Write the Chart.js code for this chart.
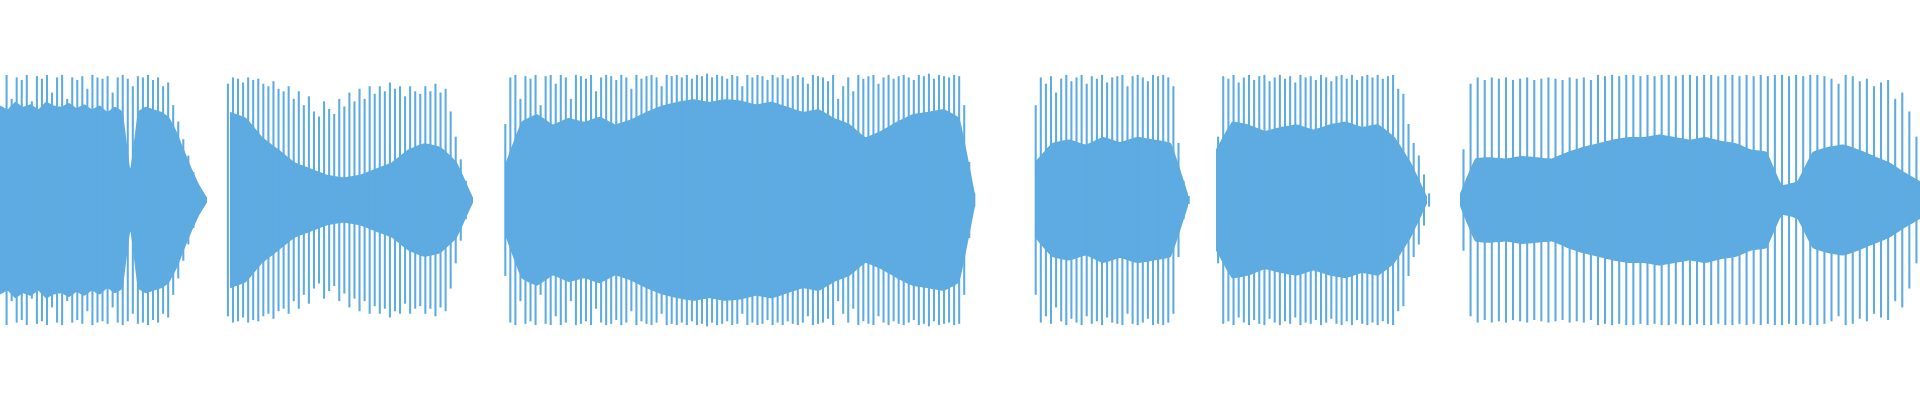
<!DOCTYPE html>
<html><head><meta charset="utf-8">
<script src="https://cdn.jsdelivr.net/npm/chart.js@4"></script>
<style>html,body{margin:0;padding:0;background:#fff}</style>
</head><body>
<canvas id="c" width="1920" height="400"></canvas>
<script>
// segment extents (sample position, px of timeline)
const segStarts = [0, 230, 506, 1035, 1216, 1460];
const segEnds   = [207, 473, 975, 1188, 1427, 1920];
// outer peak amplitudes (thin lines), evenly spaced per segment
const outer1 = [0.98,0.72,0.99,0.8,0.97,0.95,0.99,0.78,0.98,0.96,0.99,0.85,0.97,0.99,0.8,0.97,0.95,0.98,0.88,0.99,0.97,0.96,0.98,0.85,0.97,0.99,0.96,0.9,0.98,0.97,0.99,0.95,0.97,0.9,0.93,0.75,0.62,0.48,0.35,0.22,0.1,0.04];
const outer2 = [0.92,0.97,0.96,0.93,0.97,0.95,0.96,0.92,0.9,0.94,0.88,0.86,0.9,0.8,0.86,0.75,0.82,0.7,0.66,0.78,0.72,0.68,0.8,0.74,0.85,0.78,0.88,0.8,0.9,0.84,0.9,0.86,0.93,0.88,0.9,0.82,0.9,0.86,0.84,0.9,0.86,0.92,0.85,0.88,0.7,0.5,0.32,0.15,0.04];
const outer3 = [0.6,0.97,0.99,0.8,0.98,0.96,0.99,0.75,0.98,0.99,0.92,0.99,0.97,0.8,0.99,0.98,0.96,0.99,0.86,0.97,0.99,0.98,0.95,0.99,0.97,0.88,0.99,0.96,0.98,0.99,0.97,0.9,0.99,0.98,0.99,0.97,0.99,0.96,0.99,0.98,1.0,0.97,0.99,0.98,0.96,0.99,0.98,0.9,0.99,0.97,0.99,0.98,0.95,0.99,0.97,0.99,0.96,0.98,0.99,0.97,0.92,0.99,0.98,0.97,0.94,0.99,0.8,0.9,0.97,0.86,0.99,0.96,0.98,0.99,0.92,0.97,0.99,0.96,0.98,0.99,0.97,0.95,0.99,0.98,1.0,0.96,0.99,0.98,0.97,0.99,0.98,0.75,0.3,0.05];
const outer4 = [0.75,0.97,0.92,0.98,0.85,0.96,0.99,0.94,0.97,0.99,0.92,0.98,0.96,0.99,0.93,0.97,0.98,0.99,0.9,0.98,0.99,0.97,0.94,0.99,0.98,0.99,0.97,0.9,0.45,0.15,0.03];
const outer5 = [0.5,0.98,0.96,0.99,0.93,0.97,0.99,0.95,0.98,0.99,0.94,0.97,0.99,0.96,0.98,0.93,0.99,0.97,0.98,0.95,0.99,0.97,0.94,0.98,0.99,0.96,0.99,0.95,0.98,0.99,0.97,0.99,0.96,0.98,0.99,0.88,0.84,0.6,0.45,0.35,0.2,0.05];
const outer6 = [0.4,0.92,0.97,0.95,0.97,0.96,0.97,0.95,0.96,0.97,0.95,0.96,0.97,0.96,0.95,0.97,0.96,0.97,0.95,0.99,0.98,0.99,0.98,0.99,0.99,0.98,0.99,0.98,0.99,0.99,0.98,0.99,0.99,0.98,0.99,0.99,0.98,0.99,0.99,0.98,0.99,0.98,0.99,0.98,0.99,0.99,0.98,0.99,0.98,0.99,0.99,0.98,0.96,0.92,0.99,0.98,0.94,0.96,0.9,0.93,0.95,0.8,0.85,0.7,0.5,0.3];
// inner dense-core amplitudes, evenly spaced per segment
const inner1 = [0.75,0.72,0.78,0.74,0.76,0.72,0.78,0.75,0.74,0.77,0.73,0.76,0.72,0.75,0.7,0.74,0.7,0.25,0.7,0.74,0.72,0.7,0.66,0.55,0.4,0.25,0.12,0.02];
const inner2 = [0.7,0.65,0.5,0.4,0.3,0.25,0.2,0.18,0.2,0.25,0.3,0.4,0.45,0.42,0.3,0.02];
const inner3 = [0.3,0.62,0.68,0.6,0.65,0.62,0.66,0.6,0.64,0.7,0.75,0.78,0.8,0.78,0.8,0.79,0.76,0.78,0.74,0.7,0.72,0.65,0.6,0.5,0.55,0.62,0.68,0.7,0.72,0.65,0.05];
const inner4 = [0.3,0.45,0.48,0.44,0.5,0.46,0.5,0.48,0.45,0.05];
const inner5 = [0.4,0.62,0.6,0.55,0.58,0.6,0.56,0.6,0.62,0.58,0.6,0.5,0.3,0.03];
const inner6 = [0.05,0.33,0.34,0.33,0.35,0.34,0.33,0.38,0.42,0.45,0.48,0.5,0.5,0.52,0.5,0.48,0.5,0.47,0.45,0.4,0.38,0.12,0.15,0.38,0.42,0.44,0.4,0.35,0.3,0.22,0.15];

const outers = [outer1,outer2,outer3,outer4,outer5,outer6];
const inners = [inner1,inner2,inner3,inner4,inner5,inner6];
const COLOR = '#5dabe1';
const datasets = [];
outers.forEach((arr, s) => {
  const a = segStarts[s], b = segEnds[s];
  datasets.push({type:'bar', data: arr.map((v,i)=>({x: a+(b-a)*i/(arr.length-1), y:[-v, v]})),
    backgroundColor: COLOR, barThickness: 1.4, borderWidth: 0});
});
inners.forEach((arr, s) => {
  const a = segStarts[s], b = segEnds[s];
  const pts = sgn => arr.map((v,i)=>({x: a+(b-a)*i/(arr.length-1), y: sgn*v}));
  datasets.push({type:'line', data: pts(1), borderWidth:0, pointRadius:0, tension:0.1,
    backgroundColor: COLOR, borderColor: COLOR, fill: '+1'});
  datasets.push({type:'line', data: pts(-1), borderWidth:0, pointRadius:0, tension:0.1,
    borderColor: COLOR, fill: false});
});
new Chart(document.getElementById('c'), {
  data: { datasets },
  options: {
    responsive:false, animation:false, parsing:true,
    layout:{padding:0},
    plugins:{legend:{display:false}, tooltip:{enabled:false}},
    scales:{
      x:{type:'linear', min:0, max:1920, display:false, offset:false},
      y:{min:-1.587, max:1.587, display:false}
    }
  }
});
</script>
</body></html>
